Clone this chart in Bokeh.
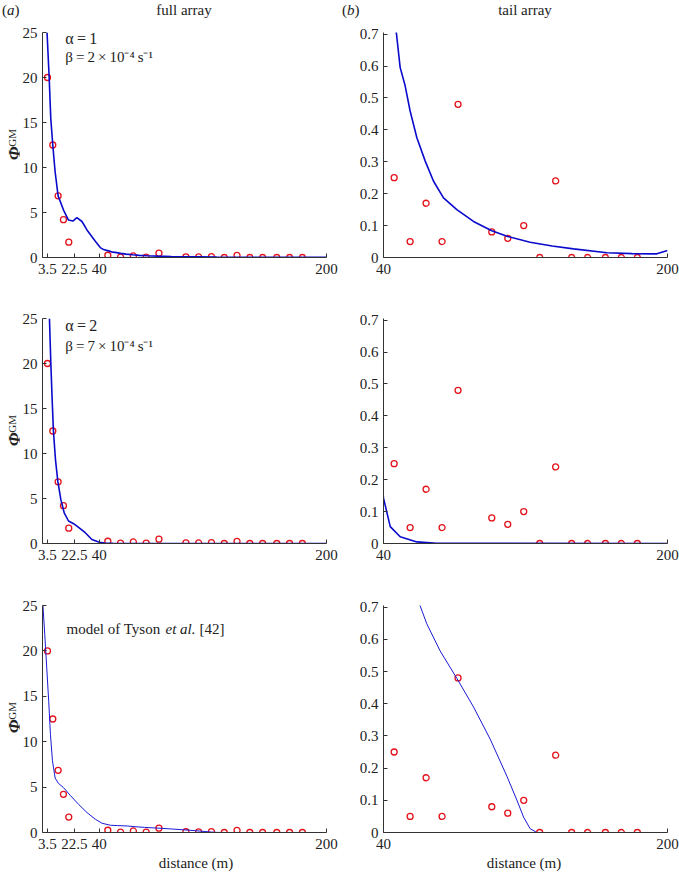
import math
from bokeh.plotting import figure
from bokeh.models import Label, FixedTicker, Range1d, Div
from bokeh.layouts import column, row
from bokeh.embed import file_html
from bokeh.resources import INLINE

# ---------------- data ----------------
# observations, full array (near field) and tail array
near_x = [3.5, 7.25, 11, 14.75, 18.5]
near_y = [20, 12.5, 6.85, 4.2, 1.7]
tail_x = [46, 55, 64, 73, 82, 101, 110, 119, 128, 137, 146, 155, 165, 174, 183]
tail_y = [0.25, 0.05, 0.17, 0.05, 0.48, 0.08, 0.06, 0.10, 0.0, 0.24, 0.0, 0.0, 0.0, 0.0, 0.0]

# model 1: alpha = 1, beta = 2e-4
m1_x = [3.2, 4.7, 5.85, 7.27, 8.9, 11, 14.8, 18.3, 21.4, 24.2, 27.8, 31.3, 37.2, 40.7, 43,
        47.1, 49.4, 52.2, 55, 58.8, 63.5, 68.2, 73.8, 81.3, 90.7, 101, 110, 122.6, 135,
        147.1, 165.9, 180, 194, 200]
m1_y = [25, 20, 15.4, 12.45, 9.5, 6.85, 5.27, 4.16, 4.05, 4.42, 4.0, 3.06, 1.8, 1.1, 0.88,
        0.711, 0.595, 0.538, 0.459, 0.375, 0.302, 0.239, 0.187, 0.150, 0.113, 0.084, 0.066,
        0.048, 0.036, 0.027, 0.0147, 0.012, 0.0115, 0.022]

# model 2: alpha = 2, beta = 7e-4
m2_x = [4.9, 5.85, 6.8, 7.7, 9.15, 10.8, 12.9, 15.3, 18.3, 21.9, 25.4, 30.1, 34.8, 40,
        43.8, 49.4, 58.8, 70, 200]
m2_y = [25, 20.1, 16, 12.5, 9.3, 6.9, 4.9, 3.4, 2.5, 2.2, 1.8, 1.2, 0.44, 0.142,
        0.053, 0.021, 0.005, 0.001, 0.0]

# model 3: Tyson et al.
m3_x = [0.3, 1.6, 3.0, 4.4, 5.6, 7.0, 8.9, 11.3, 14.8, 19.5, 25.4, 31.3, 37.2, 41.9, 47.8,
        53, 59.7, 64.4, 71.9, 81.3, 90.7, 100.1, 109.5, 115.1, 118.9, 122.6, 126.4, 200]
m3_y = [25, 21.8, 18.1, 14.4, 10.8, 7.9, 6.0, 5.4, 4.94, 4.1, 3.1, 2.2, 1.46, 1.02, 0.80,
        0.76, 0.718, 0.648, 0.564, 0.479, 0.390, 0.290, 0.175, 0.101, 0.048, 0.012, 0.0, 0.0]

full_xticks = [3.5, 22.5, 40, 200]
full_xlabels = ["3.5", "22.5", "40", "200"]
full_yticks = [0, 5, 10, 15, 20, 25]
full_ylabels = ["0", "5", "10", "15", "20", "25"]
tail_xticks = [40, 200]
tail_xlabels = ["40", "200"]
tail_yticks = [0, 0.1, 0.2, 0.3, 0.4, 0.5, 0.6, 0.7]
tail_ylabels = ["0", "0.1", "0.2", "0.3", "0.4", "0.5", "0.6", "0.7"]

# ---------------- style ----------------
FONT = "Liberation Serif"
TXT = "#222222"
BLUE = "#0a0acc"
BLUE_THIN = "#1a1ad6"
RED = "#e3121b"
TS = "\u2009"  # thin space

# (figure height, border top, border bottom, y-label centre inside row)
rows_geom = [
    (270, 12, 33, 124),
    (285, 28, 32, 140),
    (281, 30, 24, 142),
]
LABEL_W = 19
LEFT_W = 321
RIGHT_W = 339


def style_axes(p, xticks, xlabels, yticks, ylabels):
    p.xaxis.ticker = FixedTicker(ticks=xticks)
    p.yaxis.ticker = FixedTicker(ticks=yticks)
    p.xaxis.major_label_overrides = {t: l for t, l in zip(xticks, xlabels)}
    p.yaxis.major_label_overrides = {t: l for t, l in zip(yticks, ylabels)}
    for ax in (p.xaxis, p.yaxis):
        ax.major_tick_in = 4
        ax.major_tick_out = 0
        ax.minor_tick_line_color = None
        ax.axis_line_color = "#333333"
        ax.major_tick_line_color = "#333333"
        ax.major_label_text_font = FONT
        ax.major_label_text_font_size = "15px"
        ax.major_label_text_color = TXT
    p.xaxis.major_label_standoff = 6
    p.yaxis.major_label_standoff = 5
    p.xgrid.visible = False
    p.ygrid.visible = False
    p.outline_line_color = None


def add_label(p, x, y, text, size="15px", style="normal", align="left"):
    p.add_layout(Label(x=x, y=y, text=text, text_font=FONT, text_font_size=size,
                       text_font_style=style, text_color=TXT, text_align=align,
                       text_baseline="middle"))


def make_full(ri, mx, my, lw, color):
    h, bt, bb, _ = rows_geom[ri]
    p = figure(width=LEFT_W, height=h, output_backend="svg", toolbar_location=None,
               x_range=Range1d(0, 200), y_range=Range1d(0, 25),
               min_border_left=23, min_border_right=14, min_border_top=bt,
               min_border_bottom=bb, margin=0)
    style_axes(p, full_xticks, full_xlabels, full_yticks, full_ylabels)
    p.scatter(near_x + tail_x, near_y + tail_y, marker="circle", size=6,
              fill_color=None, line_color=RED, line_width=1.3)
    p.line(mx, my, line_color=color, line_width=lw)
    return p


def make_tail(ri, mx, my, lw, color):
    h, bt, bb, _ = rows_geom[ri]
    p = figure(width=RIGHT_W, height=h, output_backend="svg", toolbar_location=None,
               x_range=Range1d(40, 200), y_range=Range1d(0, 0.705),
               min_border_left=43, min_border_right=12, min_border_top=bt,
               min_border_bottom=bb, margin=0)
    style_axes(p, tail_xticks, tail_xlabels, tail_yticks, tail_ylabels)
    p.scatter(tail_x, tail_y, marker="circle", size=6,
              fill_color=None, line_color=RED, line_width=1.3)
    p.line(mx, my, line_color=color, line_width=lw)
    return p


def ylabel_div(ri):
    h, _, _, c = rows_geom[ri]
    html = (
        f'<div style="position:relative;width:{LABEL_W}px;height:{h}px;">'
        f'<div style="position:absolute;left:-8.5px;top:{c - 6.5}px;width:40px;height:13px;'
        f'line-height:13px;text-align:center;white-space:nowrap;transform:rotate(-90deg);'
        f'font-family:\'{FONT}\',serif;color:{TXT};">'
        f'<span style="font-size:17px;font-style:italic;font-weight:bold;">Φ</span>'
        f'<span style="font-size:11px;vertical-align:4px;">GM</span></div></div>'
    )
    return Div(text=html, width=LABEL_W, height=h, margin=0)


def text_div(width, height, items):
    spans = []
    for left, text, center in items:
        tr = "transform:translateX(-50%);" if center else ""
        spans.append(f'<span style="position:absolute;left:{left}px;top:0;{tr}'
                     f'white-space:nowrap;">{text}</span>')
    html = (f'<div style="position:relative;width:{width}px;height:{height}px;'
            f'line-height:{height}px;font-family:\'{FONT}\',serif;font-size:15px;'
            f'color:{TXT};">' + "".join(spans) + '</div>')
    return Div(text=html, width=width, height=height, margin=0)


p1 = make_full(0, m1_x, m1_y, 1.6, BLUE)
p2 = make_tail(0, m1_x, m1_y, 1.6, BLUE)
p3 = make_full(1, m2_x, m2_y, 1.6, BLUE)
p4 = make_tail(1, m2_x, m2_y, 1.6, BLUE)
p5 = make_full(2, m3_x, m3_y, 1.0, BLUE_THIN)
p6 = make_tail(2, m3_x, m3_y, 1.0, BLUE_THIN)

# parameter annotations inside the panels
add_label(p1, 16.1, 24.3, f"α{TS}={TS}1", size="16px")
add_label(p1, 16.1, 22.3, f"β{TS}={TS}2{TS}×{TS}10⁻⁴{TS}s⁻¹")
add_label(p3, 16.1, 24.2, f"α{TS}={TS}2", size="16px")
add_label(p3, 16.1, 22.0, f"β{TS}={TS}7{TS}×{TS}10⁻⁴{TS}s⁻¹")
add_label(p5, 16.9, 22.4, "model of Tyson")
add_label(p5, 86.6, 22.4, "et al.", style="italic")
add_label(p5, 110.6, 22.4, "[42]")

head = row(
    text_div(LABEL_W + LEFT_W, 20, [(2, "(<i>a</i>)", False), (184, "full array", True)]),
    text_div(RIGHT_W, 20, [(2, "(<i>b</i>)", False), (185, "tail array", True)]),
)
foot = row(
    text_div(LABEL_W + LEFT_W, 15, [(196, "distance (m)", True)]),
    text_div(RIGHT_W, 15, [(184, "distance (m)", True)]),
)

layout = column(
    head,
    row(ylabel_div(0), p1, p2),
    row(ylabel_div(1), p3, p4),
    row(ylabel_div(2), p5, p6),
    foot,
)

open("out.html", "w").write(file_html(layout, INLINE))
